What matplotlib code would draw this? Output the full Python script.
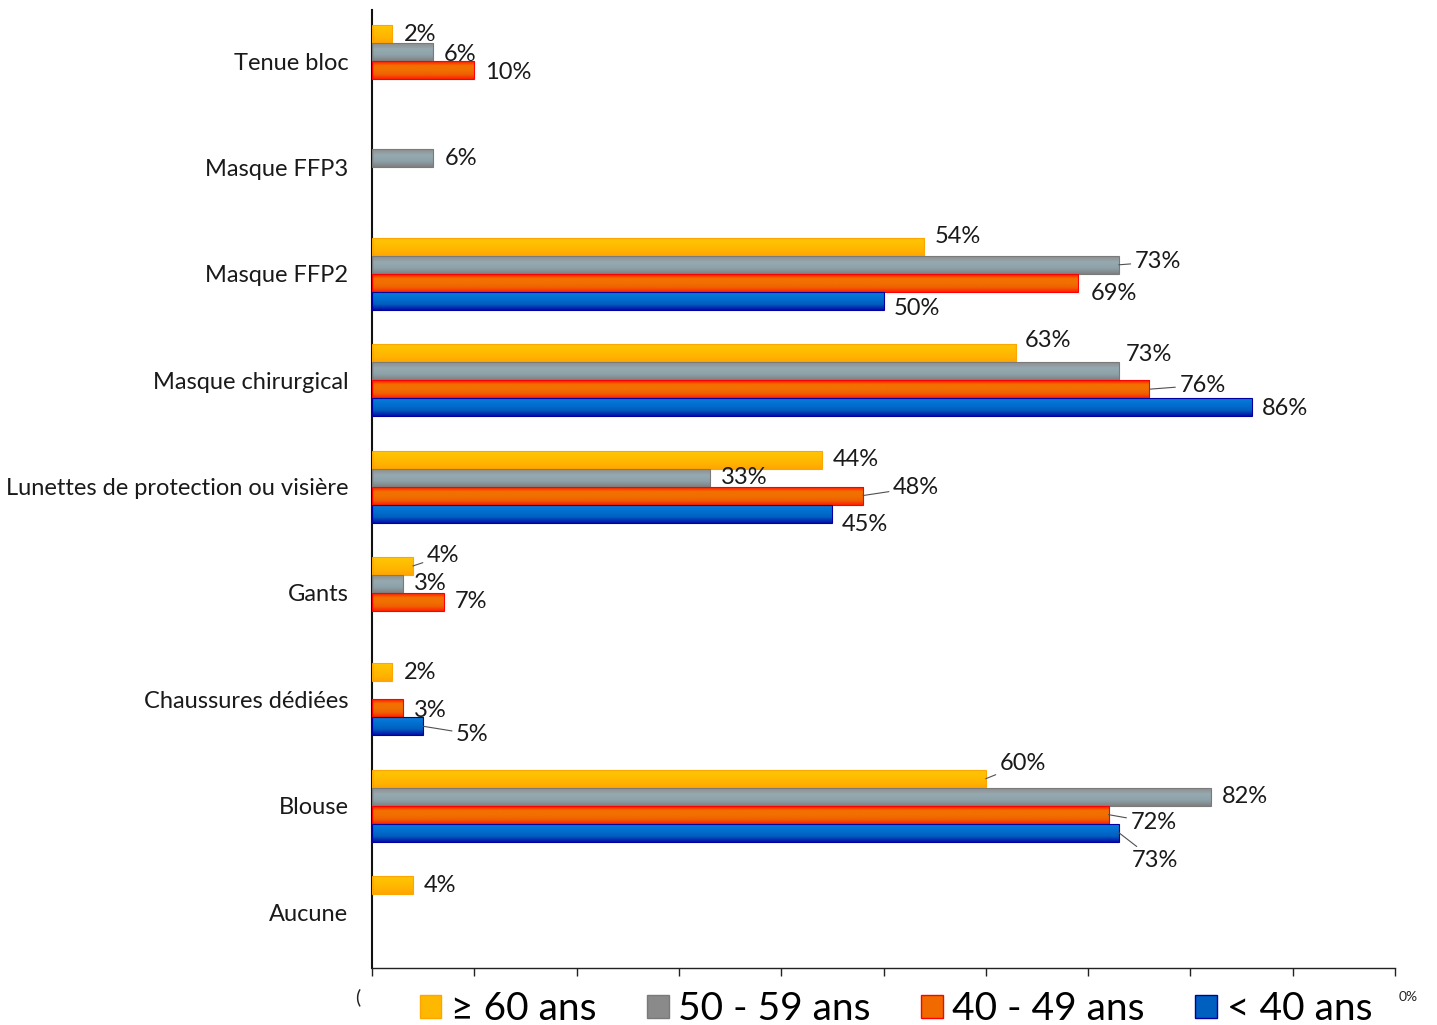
import matplotlib
matplotlib.use("Agg")
import matplotlib.pyplot as plt
import numpy as np
from matplotlib.colors import to_rgb

# ---------------- data ----------------
categories = ["Tenue bloc", "Masque FFP3", "Masque FFP2", "Masque chirurgical",
              "Lunettes de protection ou visière", "Gants", "Chaussures dédiées",
              "Blouse", "Aucune"]
series_names = ["≥ 60 ans", "50 - 59 ans", "40 - 49 ans", "< 40 ans"]
nan = np.nan
v_60plus = [2, nan, 54, 63, 44, 4, 2, 60, 4]
v_50_59 = [6, 6, 73, 73, 33, 3, nan, 82, nan]
v_40_49 = [10, nan, 69, 76, 48, 7, 3, 72, nan]
v_lt40 = [nan, nan, 50, 86, 45, nan, 5, 73, nan]
series_values = [v_60plus, v_50_59, v_40_49, v_lt40]
x_ticks = list(range(0, 101, 10))

# ---------------- style ----------------
FONT = ["Lato", "DejaVu Sans"]
plt.rcParams["font.family"] = FONT

solid = ["#FFB800", "#8A8A8A", "#F06A00", "#0060C0"]
edges = ["#FFA500", "#7A7A7A", "#FF0000", "#0000A0"]
stops = [
    ["#FFC60A", "#FFBE00", "#FFB400", "#FFA500"],
    ["#8E8E8E", "#96A9B0", "#8DA2AA", "#808080"],
    ["#FF1A00", "#F27000", "#F07000", "#F06000", "#FF2000"],
    ["#0E7AD8", "#0070D0", "#0060C0", "#0010A8"],
]

# label offsets (pixels: dx right, dy down) and leader flag
label_style = {
    (0, 1): (10, 2, False), (0, 2): (11, 2, False),
    (2, 0): (10, -10, False), (2, 1): (16, -3, True), (2, 2): (13, 11, False), (2, 3): (10, 8, False),
    (3, 0): (8, -13, False), (3, 1): (7, -17, False), (3, 2): (30, -4, True), (3, 3): (10, 1, False),
    (4, 2): (30, -8, True), (4, 3): (9, 11, False),
    (5, 0): (14, -10, True),
    (6, 2): (11, 2, False), (6, 3): (33, 8, True),
    (7, 0): (14, -15, True), (7, 2): (22, 8, True), (7, 3): (13, 28, True),
}

fig = plt.figure(figsize=(14.37, 10.25), dpi=100)
ax = fig.add_axes([372 / 1437, 1 - 968 / 1025, (1395 - 372) / 1437, (968 - 10) / 1025])

y = np.arange(len(categories))
bh = 0.169
offsets = [-1.5, -0.5, 0.5, 1.5]


def gradient_fill(bars, cstops):
    cols = np.array([to_rgb(c) for c in cstops])
    n = 64
    t = np.linspace(0, 1, n)
    pos = np.linspace(0, 1, len(cols))
    grad = np.stack([np.interp(t, pos, cols[:, k]) for k in range(3)], axis=-1)[:, None, :]
    for b in bars:
        x0, y0 = b.get_x(), b.get_y()
        w, h = b.get_width(), b.get_height()
        if not np.isfinite(w) or w <= 0:
            continue
        im = ax.imshow(grad, extent=[x0, x0 + w, y0 + h, y0], origin="upper",
                       aspect="auto", interpolation="bilinear", zorder=2.5)
        im.set_clip_path(b)


for si, vals in enumerate(series_values):
    ypos = y + offsets[si] * bh
    bars = ax.barh(ypos, vals, height=bh, color=solid[si], zorder=2, linewidth=0)
    gradient_fill(bars, stops[si])
    ax.barh(ypos, vals, height=bh, facecolor="none", edgecolor=edges[si],
            linewidth=0.8, zorder=3)
    for ci, v in enumerate(vals):
        if not np.isfinite(v):
            continue
        dx, dy, leader = label_style.get((ci, si), (11, 0, False))
        kw = {}
        if leader:
            kw["arrowprops"] = dict(arrowstyle="-", color="#505050", lw=0.8,
                                    shrinkA=1, shrinkB=0)
        ax.annotate(f"{v:g}%", xy=(v, ypos[ci]), xytext=(dx, -dy),
                    textcoords="offset pixels", ha="left", va="center",
                    fontsize=17, color="#1a1a1a", zorder=5, **kw)

ax.set_xlim(0, 100)
ax.set_ylim(8.526, -0.48)
ax.set_yticks(y)
ax.set_yticklabels(categories, fontsize=17, color="#1a1a1a")
ax.tick_params(axis="y", length=0, pad=17)
ax.set_xticks(x_ticks)
ax.set_xticklabels([])
ax.tick_params(axis="x", length=6, width=1, direction="out", color="#222222")
for s in ["top", "right"]:
    ax.spines[s].set_visible(False)
ax.spines["left"].set_linewidth(1.5)
ax.spines["bottom"].set_linewidth(1.0)
ax.spines["left"].set_color("#111111")
ax.spines["bottom"].set_color("#222222")

# clipped tick-label remnants
fig.text(358 / 1437, 1 - 997 / 1025, "(", fontsize=14, ha="center", va="center", color="#222222")
fig.text(1408 / 1437, 1 - 997 / 1025, "0%", fontsize=10, ha="center", va="center", color="#222222")

handles = [plt.Rectangle((0, 0), 1, 1, facecolor=solid[i], edgecolor=edges[i], linewidth=1)
           for i in range(4)]
fig.legend(handles, series_names, loc="center", bbox_to_anchor=(896 / 1437, 1 - 1009 / 1025),
           ncol=4, frameon=False, fontsize=28, handlelength=0.55, handleheight=0.55,
           handletextpad=0.25, columnspacing=1.3, borderaxespad=0, borderpad=0)

fig.savefig("out.png", dpi=100)
